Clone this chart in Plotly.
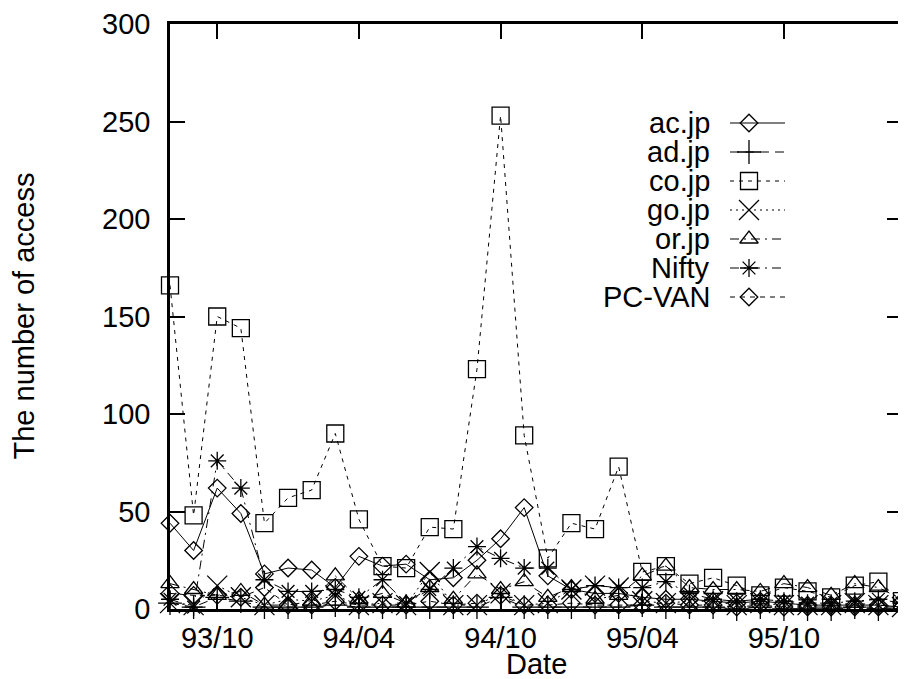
import plotly.graph_objects as go

# ---------------- data ----------------
months = ["93/08", "93/09", "93/10", "93/11", "93/12", "94/01", "94/02", "94/03",
          "94/04", "94/05", "94/06", "94/07", "94/08", "94/09", "94/10", "94/11",
          "94/12", "95/01", "95/02", "95/03", "95/04", "95/05", "95/06", "95/07",
          "95/08", "95/09", "95/10", "95/11", "95/12", "96/01", "96/02", "96/03"]
tick_labels = ["93/10", "94/04", "94/10", "95/04", "95/10"]
y_ticks = [0, 50, 100, 150, 200, 250, 300]

ac_jp = [44, 30, 62, 49, 18, 21, 20, 11, 27, 22, 23, 15, 16, 25, 36, 52,
         17, 10, 8, 8, 6, 5, 5, 4, 3, 4, 3, 2, 2, 2, 2, 1]
ad_jp = [3, 1, 6, 4, 1, 1, 1, 2, 1, 1, 1, 1, 1, 1, 6, 1,
         1, 1, 1, 1, 2, 1, 1, 1, 0, 1, 0, 0, 0, 1, 0, 0]
co_jp = [166, 48, 150, 144, 44, 57, 61, 90, 46, 22, 21, 42, 41, 123, 253, 89,
         26, 44, 41, 73, 19, 22, 13, 16, 12, 7, 11, 9, 6, 12, 14, 4]
go_jp = [3, 2, 12, 6, 2, 5, 4, 7, 2, 3, 2, 19, 2, 2, 8, 2,
         3, 10, 12, 11, 4, 3, 4, 4, 2, 3, 2, 2, 2, 3, 2, 1]
or_jp = [13, 10, 7, 9, 2, 2, 4, 17, 5, 8, 3, 11, 5, 18, 10, 14,
         6, 11, 5, 7, 17, 22, 11, 10, 10, 9, 13, 11, 7, 13, 11, 5]
nifty = [5, 1, 76, 62, 15, 9, 9, 10, 6, 15, 3, 10, 21, 32, 26, 21,
         21, 10, 12, 11, 11, 14, 8, 5, 4, 5, 4, 3, 3, 4, 5, 3]
pc_van = [8, 7, 7, 6, 11, 2, 2, 4, 2, 2, 2, 4, 2, 3, 7, 2,
          2, 3, 2, 2, 2, 3, 2, 2, 1, 2, 1, 1, 1, 1, 1, 1]

series_names = ["ac.jp", "ad.jp", "co.jp", "go.jp", "or.jp", "Nifty", "PC-VAN"]
series_values = [ac_jp, ad_jp, co_jp, go_jp, or_jp, nifty, pc_van]

# ---------------- styles ----------------
styles = {
    "ac.jp":  dict(symbol="diamond-open", size=13.5, dash="solid"),
    "ad.jp":  dict(symbol="cross-thin-open", size=17, dash="9px,6px"),
    "co.jp":  dict(symbol="square-open", size=17, dash="4px,5px"),
    "go.jp":  dict(symbol="x-thin-open", size=20, dash="2px,4px"),
    "or.jp":  dict(symbol="triangle-up-open", size=16, dash="9px,5px,2px,5px"),
    "Nifty":  dict(symbol="asterisk-open", size=15, dash="9px,5px,2px,5px"),
    "PC-VAN": dict(symbol="diamond-open", size=13.5, dash="5px,5px"),
}

FONT = "Liberation Sans, Arial, Helvetica, sans-serif"
FS = 29

# page geometry (the html body adds an 8px margin around the figure)
PAGE_W, PAGE_H = 906, 679
OFF = 8
W, H = PAGE_W - OFF, PAGE_H - OFF
# plot area in page pixels
PX0, PX1, PY0, PY1 = 170, 902, 24, 609
ML, MR, MT, MB = PX0 - OFF, W - (PX1 - OFF), PY0 - OFF, H - (PY1 - OFF)
PW, PH = PX1 - PX0, PY1 - PY0

x_idx = list(range(len(months)))

fig = go.Figure()
for name, vals in zip(series_names, series_values):
    st = styles[name]
    fig.add_trace(go.Scatter(
        x=x_idx, y=vals, mode="lines+markers", name=name,
        line=dict(color="black", width=1, dash=st["dash"]),
        marker=dict(symbol=st["symbol"], size=st["size"], color="black",
                    line=dict(color="black", width=1.3)),
        showlegend=False, cliponaxis=False,
    ))

# ---------------- gnuplot-style key (text left, sample right) ----------------
# overlay axes measured in page pixels
KEY_TEXT_X = 712
KEY_LINE_X0, KEY_LINE_X1 = 730, 785
KEY_MARK_X = 749
KEY_Y0, KEY_DY = 123, 29

for i, name in enumerate(series_names):
    st = styles[name]
    ky = KEY_Y0 + i * KEY_DY
    fig.add_trace(go.Scatter(
        x=[KEY_LINE_X0, KEY_LINE_X1], y=[ky, ky], mode="lines",
        line=dict(color="black", width=1, dash=st["dash"]),
        xaxis="x2", yaxis="y2", showlegend=False, hoverinfo="skip",
    ))
    fig.add_trace(go.Scatter(
        x=[KEY_MARK_X], y=[ky], mode="markers",
        marker=dict(symbol=st["symbol"], size=st["size"], color="black",
                    line=dict(color="black", width=1.3)),
        xaxis="x2", yaxis="y2", showlegend=False, hoverinfo="skip",
    ))
    fig.add_annotation(
        x=KEY_TEXT_X, y=ky, xref="x2", yref="y2", text=name,
        showarrow=False, xanchor="right", yanchor="middle",
        font=dict(family=FONT, size=FS, color="black"),
    )

# axis titles (page pixel positions converted to paper units)
fig.add_annotation(
    x=0.5, y=(PY1 - 664) / PH, xref="paper", yref="paper",
    text="Date", showarrow=False, xanchor="center", yanchor="middle",
    font=dict(family=FONT, size=FS, color="black"),
)
fig.add_annotation(
    x=(23 - PX0) / PW, y=0.5, xref="paper", yref="paper",
    text="The number of access", showarrow=False, textangle=-90,
    xanchor="center", yanchor="middle",
    font=dict(family=FONT, size=FS, color="black"),
)

tick_vals = [months.index(t) for t in tick_labels]

fig.update_layout(
    width=W, height=H,
    margin=dict(l=ML, r=MR, t=MT, b=MB, pad=0, autoexpand=False),
    paper_bgcolor="white", plot_bgcolor="white",
    font=dict(family=FONT, size=FS, color="black"),
    showlegend=False,
    xaxis=dict(
        range=[0, len(months) - 1], tickmode="array",
        tickvals=tick_vals, ticktext=tick_labels,
        ticks="inside", ticklen=15, tickwidth=2, tickcolor="black",
        showline=True, linewidth=2.5, linecolor="black", mirror="ticks",
        showgrid=False, zeroline=False, automargin=False,
        ticklabelstandoff=1,
    ),
    yaxis=dict(
        range=[0, 300], tickmode="array", tickvals=y_ticks,
        ticks="inside", ticklen=15, tickwidth=2, tickcolor="black",
        showline=True, linewidth=2.5, linecolor="black", mirror="ticks",
        showgrid=False, zeroline=False, automargin=False,
        ticklabelstandoff=11,
    ),
    xaxis2=dict(overlaying="x", range=[PX0, PX1], visible=False,
                fixedrange=True),
    yaxis2=dict(overlaying="y", range=[PY1, PY0], visible=False,
                fixedrange=True),
)

fig.write_html("out.html")
